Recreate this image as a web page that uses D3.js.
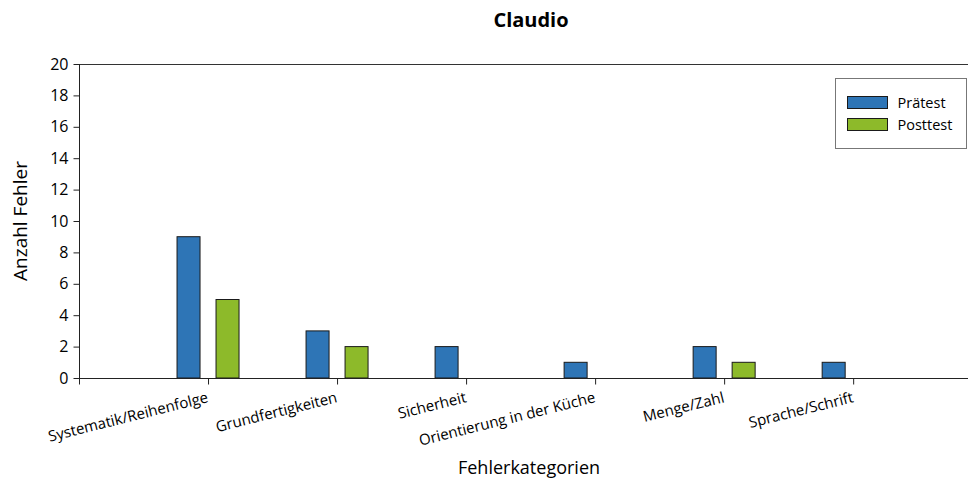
<!DOCTYPE html>
<html>
<head>
<meta charset="utf-8">
<script src="https://cdn.jsdelivr.net/npm/d3@7"></script>
<style>
  body { margin: 0; background: #fff; }
  text { font-family: "Open Sans", sans-serif; fill: #000; }
</style>
</head>
<body>
<svg id="chart"></svg>
<script>
var width = 970;
var height = 479;

var categories = ["Systematik/Reihenfolge", "Grundfertigkeiten", "Sicherheit",
  "Orientierung in der Küche", "Menge/Zahl", "Sprache/Schrift"];
var praetest = [9, 3, 2, 1, 2, 1];
var posttest = [5, 2, 0, 0, 1, 0];
var seriesNames = ["Prätest", "Posttest"];
var colors = ["#2E75B6", "#8DBA2A"];
var yTicks = [0, 2, 4, 6, 8, 10, 12, 14, 16, 18, 20];

var plotLeft = 79, plotRight = 968, plotTop = 64, plotBottom = 378;

var svg = d3.select("#chart")
    .attr("width", width)
    .attr("height", height);

// category slots 1..6, plot runs a bit past the last one
var xScale = d3.scaleLinear()
    .domain([0, 6.89])
    .range([plotLeft, plotRight]);

var yScale = d3.scaleLinear()
    .domain([0, 20])
    .range([plotBottom, plotTop]);

var barW = 23;
var offset = 19.5;

// top border
svg.append("line")
  .attr("x1", plotLeft).attr("x2", plotRight)
  .attr("y1", plotTop + 0.5).attr("y2", plotTop + 0.5)
  .attr("stroke", "#333");

// bars (zero values are not drawn)
var series = [praetest, posttest];
series.forEach(function(vals, s) {
  var rows = vals.map(function(v, i) { return { i: i, v: v }; })
    .filter(function(d) { return d.v > 0; });
  svg.selectAll(".bar" + s)
    .data(rows)
    .enter()
    .append("rect")
    .attr("class", "bar" + s)
    .attr("x", function(d) { return xScale(d.i + 1) + (s === 0 ? -offset : offset) - barW / 2; })
    .attr("y", function(d) { return yScale(d.v); })
    .attr("width", barW)
    .attr("height", function(d) { return plotBottom - yScale(d.v); })
    .attr("fill", colors[s])
    .attr("stroke", "#1a1a1a")
    .attr("stroke-width", 1);
});

// y axis
var yAxis = d3.axisLeft(yScale)
  .tickValues(yTicks)
  .tickSize(6)
  .tickPadding(5);

var gy = svg.append("g")
  .attr("transform", "translate(" + (plotLeft + 0.5) + ",0)")
  .call(yAxis);
gy.attr("font-size", null).attr("font-family", null);
gy.select(".domain").attr("stroke", "#222").attr("d", "M0," + plotTop + "V" + plotBottom);
gy.selectAll(".tick line").attr("stroke", "#222");
gy.selectAll("text").style("font-size", "16px").attr("fill", "#000");

// x axis
var xAxis = d3.axisBottom(xScale)
  .tickValues([0, 1, 2, 3, 4, 5, 6])
  .tickSize(6)
  .tickFormat("");

var gx = svg.append("g")
  .attr("transform", "translate(0," + (plotBottom + 0.5) + ")")
  .call(xAxis);
gx.select(".domain").attr("stroke", "#222").attr("d", "M" + plotLeft + ",0H" + plotRight);
gx.selectAll(".tick line").attr("stroke", "#222");

// category labels
svg.selectAll(".catlabel")
  .data(categories)
  .enter()
  .append("text")
  .attr("class", "catlabel")
  .attr("transform", function(d, i) {
    return "translate(" + (xScale(i + 1) + 1) + "," + (plotBottom + 24) + ") rotate(-14)";
  })
  .attr("text-anchor", "end")
  .style("font-size", "15px")
  .text(function(d) { return d; });

// title
svg.append("text")
  .attr("x", 531).attr("y", 27)
  .attr("text-anchor", "middle")
  .style("font-size", "20px")
  .style("font-weight", "bold")
  .text("Claudio");

// axis titles
svg.append("text")
  .attr("x", 529).attr("y", 474)
  .attr("text-anchor", "middle")
  .style("font-size", "18px")
  .text("Fehlerkategorien");

svg.append("text")
  .attr("transform", "translate(27,221) rotate(-90)")
  .attr("text-anchor", "middle")
  .style("font-size", "19px")
  .text("Anzahl Fehler");

// legend
var legend = svg.append("g").attr("transform", "translate(835.5,78.5)");
legend.append("rect")
  .attr("width", 131).attr("height", 70)
  .attr("fill", "#fff").attr("stroke", "#777");
seriesNames.forEach(function(name, i) {
  legend.append("rect")
    .attr("x", 12).attr("y", 18 + i * 22)
    .attr("width", 40).attr("height", 12)
    .attr("fill", colors[i]).attr("stroke", "#1a1a1a");
  legend.append("text")
    .attr("x", 62).attr("y", 29 + i * 22)
    .style("font-size", "14.5px")
    .text(name);
});
</script>
</body>
</html>
